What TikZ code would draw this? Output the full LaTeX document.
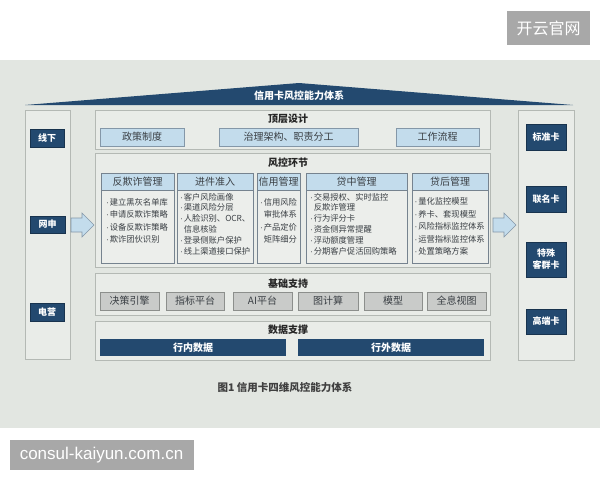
\documentclass[tikz,border=0pt]{standalone}
\usepackage{fontspec}
\usepackage{xcolor}
\usepackage{tikz}
\setmainfont{Noto Sans CJK SC}
\newfontfamily\latinwm{Liberation Sans}
\newcommand{\itemdot}{{\latinwm ·}\kern1pt}
\definecolor{bgcol}{HTML}{E2E6E1}
\definecolor{panelfill}{HTML}{E9ECE8}
\definecolor{panelline}{HTML}{B4B9B4}
\definecolor{navy}{HTML}{23496F}
\definecolor{skyfill}{HTML}{C3DCEC}
\definecolor{skyline}{HTML}{8497A8}
\definecolor{grayfill}{HTML}{C9CBC9}
\definecolor{grayline}{HTML}{8C8F8C}
\definecolor{secline}{HTML}{76838F}
\definecolor{secfill}{HTML}{ECEEEB}
\definecolor{wmgray}{HTML}{A8A8A8}
\definecolor{inktext}{HTML}{3A3F44}

\begin{document}
\begin{tikzpicture}[x=1pt,y=-1pt,
	every node/.style={inner sep=0pt,outer sep=0pt},
	sz/.style 2 args={minimum width=#1,minimum height=#2},
	panel/.style={draw=panelline,fill=panelfill,line width=0.8pt},
	paneltitle/.style={font=\bfseries\fontsize{10}{12}\selectfont,text=black!85},
	tag/.style={fill=navy,draw=navy!70!black,text=white,align=center,font=\bfseries\fontsize{9}{11}\selectfont},
	topitem/.style={fill=skyfill,draw=skyline,text=inktext,font=\fontsize{10}{12}\selectfont},
	baseitem/.style={fill=grayfill,draw=grayline,text=inktext,font=\fontsize{10}{12}\selectfont},
	dataitem/.style={fill=navy,text=white,font=\bfseries\fontsize{10}{12}\selectfont},
	secbox/.style={draw=secline,fill=secfill,line width=0.8pt},
	sechead/.style={draw=secline,fill=skyfill,line width=0.8pt,text=inktext,font=\fontsize{10}{12}\selectfont},
	secbody/.style={anchor=north west,align=left,text=inktext,font=\fontsize{8.3}{#1}\selectfont},
	secbody/.default=12.5,
	blockarrow/.style={fill=skyfill,draw=skyline,line width=0.6pt},
	wmark/.style={fill=wmgray,text=white}]
					\useasboundingbox (0,0) rectangle (600,480);
					\fill[bgcol] (0,60) rectangle (600,428);
					
					\coordinate (roofl) at (25,105);
					\coordinate (roofm) at (299,83);
					\coordinate (roofr) at (573,105);
					\fill[navy] (roofl) -- (roofm) -- (roofr) -- cycle;
					\node[text=white,font=\bfseries\fontsize{10}{12}\selectfont] (roof) at (299,96) {信用卡风控能力体系};
					
					\node[panel,sz={45}{249}] (leftcol) at (47.5,234.5) {};
					\node[tag,sz={34}{18}] (xianxia) at (47,138) {线下};
					\node[tag,sz={35}{17}] (wangshen) at (47.5,224.5) {网申};
					\node[tag,sz={34}{18}] (dianying) at (47,312) {电营};
					
					\node[panel,sz={56}{250}] (rightcol) at (546,235) {};
					\node[tag,sz={40}{26}] (biaozhun) at (546,137) {标准卡};
					\node[tag,sz={40}{26}] (lianming) at (546,199) {联名卡};
					\node[tag,sz={40}{35},font=\bfseries\fontsize{9}{12}\selectfont] (teshu) at (546,259.5) {特殊\\客群卡};
					\node[tag,sz={40}{25}] (gaoduan) at (546,321.5) {高端卡};
					
					\foreach \ax in {71,493}
						\filldraw[blockarrow,shift={(\ax,225)}] (0,-7) -- (11,-7) -- (11,-12) -- (23,0) -- (11,12) -- (11,7) -- (0,7) -- cycle;
					
					\node[panel,sz={395}{39}] (dingceng) at (292.5,129.5) {};
					\node[paneltitle] (dingcengt) at (288,119) {顶层设计};
					\node[topitem,sz={84}{18}] (zhengce) at (142,137) {政策制度};
					\node[topitem,sz={139}{18}] (zhili) at (288.5,137) {治理架构、职责分工};
					\node[topitem,sz={83}{18}] (liucheng) at (437.5,137) {工作流程};
					
					\node[panel,sz={395}{114}] (fengkong) at (292.5,210) {};
					\node[paneltitle] (fengkongt) at (288,163) {风控环节};
					\node[secbox,sz={73}{90}] (fanqizha) at (137.5,218) {};
					\node[secbox,sz={76}{90}] (jinjian) at (215,218) {};
					\node[secbox,sz={43}{90}] (xinyong) at (278.5,218) {};
					\node[secbox,sz={101}{90}] (daizhong) at (356.5,218) {};
					\node[secbox,sz={76}{90}] (daihou) at (450,218) {};
					\node[sechead,sz={73}{17}] (fanqizhah) at (137.5,181.5) {反欺诈管理};
					\node[sechead,sz={76}{17}] (jinjianh) at (215,181.5) {进件准入};
					\node[sechead,sz={43}{17}] (xinyongh) at (278.5,181.5) {信用管理};
					\node[sechead,sz={101}{17}] (daizhongh) at (356.5,181.5) {贷中管理};
					\node[sechead,sz={76}{17}] (daihouh) at (450,181.5) {贷后管理};
					\node[secbody] (fanqizhab) at (106,198) {\itemdot 建立黑灰名单库\\\itemdot 申请反欺诈策略\\\itemdot 设备反欺诈策略\\\itemdot 欺诈团伙识别};
					\node[secbody=10.8] (jinjianb) at (180,193) {\itemdot 客户风险画像\\\itemdot 渠道风险分层\\\itemdot 人脸识别、OCR、\\\hphantom{\itemdot}信息核验\\\itemdot 登录侧账户保护\\\itemdot 线上渠道接口保护};
					\node[secbody] (xinyongb) at (260,198) {\itemdot 信用风险\\\hphantom{\itemdot}审批体系\\\itemdot 产品定价\\\hphantom{\itemdot}矩阵细分};
					\node[secbody=10.8] (daizhongb) at (310,193) {\itemdot 交易授权、实时监控\\\hphantom{\itemdot}反欺诈管理\\\itemdot 行为评分卡\\\itemdot 资金侧异常提醒\\\itemdot 浮动额度管理\\\itemdot 分期客户促活回购策略};
					\node[secbody] (daihoub) at (414.5,198) {\itemdot 量化监控模型\\\itemdot 养卡、套现模型\\\itemdot 风险指标监控体系\\\itemdot 运营指标监控体系\\\itemdot 处置策略方案};
					
					\node[panel,sz={395}{42}] (jichu) at (292.5,294) {};
					\node[paneltitle] (jichut) at (288,284) {基础支持};
					\node[baseitem,sz={59}{18}] (juece) at (129.5,301) {决策引擎};
					\node[baseitem,sz={58}{18}] (zhibiao) at (195,301) {指标平台};
					\node[baseitem,sz={59}{18}] (aipt) at (262.5,301) {AI平台};
					\node[baseitem,sz={60}{18}] (tujisuan) at (328,301) {图计算};
					\node[baseitem,sz={58}{18}] (moxing) at (393,301) {模型};
					\node[baseitem,sz={59}{18}] (quanxi) at (456.5,301) {全息视图};
					
					\node[panel,sz={395}{39}] (shuju) at (292.5,340.5) {};
					\node[paneltitle] (shujut) at (288,330) {数据支撑};
					\node[dataitem,sz={186}{17}] (hangnei) at (193,347.5) {行内数据};
					\node[dataitem,sz={186}{17}] (hangwai) at (391,347.5) {行外数据};
					
					\node[text=black!75,font=\bfseries\fontsize{10.5}{12}\selectfont] (caption) at (285,387) {图1\ 信用卡四维风控能力体系};
					
					\node[wmark,sz={83}{34},font=\fontsize{16}{18}\selectfont] (wmtop) at (548.5,28) {开云官网};
					\node[wmark,sz={184}{30},font=\latinwm\fontsize{17}{20}\selectfont] (wmbot) at (101.5,455) {consul-kaiyun.com.cn};
				\end{tikzpicture}
\end{document}
